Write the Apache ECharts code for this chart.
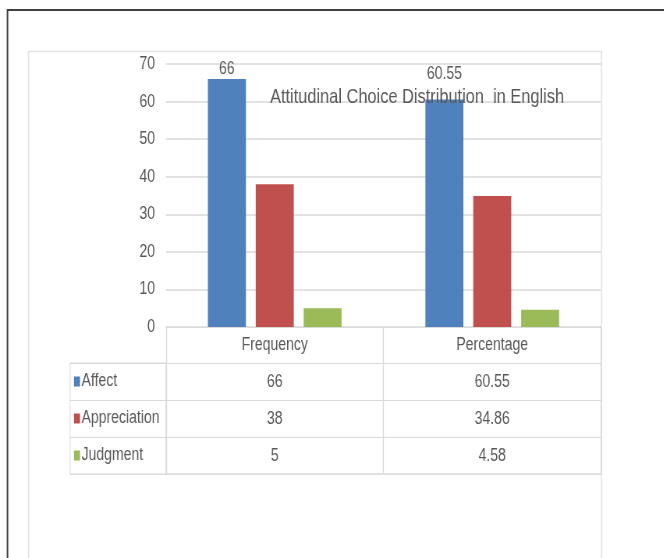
<!DOCTYPE html>
<html>
<head>
<meta charset="utf-8">
<script src="https://cdn.jsdelivr.net/npm/echarts@6/dist/echarts.min.js"></script>
<style>
html,body{margin:0;padding:0;background:#fff;overflow:hidden;}
#wrap{width:664px;height:558px;overflow:hidden;position:relative;}
#chart{height:558px;transform-origin:0 0;position:absolute;left:0;top:0;}
</style>
</head>
<body>
<div id="wrap"><div id="chart"></div></div>
<script>
var categories = ['Frequency', 'Percentage'];
var seriesNames = ['Affect', 'Appreciation', 'Judgment'];
var affect = [66, 60.55];
var appreciation = [38, 34.86];
var judgment = [5, 4.58];
var yTicks = [0, 10, 20, 30, 40, 50, 60, 70];
var titleText = 'Attitudinal Choice Distribution  in English';

// Narrow look: render Liberation Sans and compress horizontally
var SX = 0.78;
function px(x) { return x / SX; }

var FONT = '"Liberation Sans", Arial, sans-serif';
var TXT = '#595959';
var GRID = '#d9d9d9';
var colors = ['#4F81BD', '#C0504D', '#9BBB59'];
var values = [affect, appreciation, judgment];

var W = 664, H = 558;
var CW = px(W);
var el = document.getElementById('chart');
el.style.width = CW + 'px';
el.style.transform = 'scaleX(' + SX + ')';

var plotLeft = 166, plotRight = 601, plotTop = 64, plotBottom = 327;
var headerH = 36, rowH = 37;
var legendColLeft = 70;
var fs = 18;

var xAxes = [{
  type: 'category', gridIndex: 0, data: categories, position: 'bottom',
  axisLine: {show: true, lineStyle: {color: GRID, width: 1}},
  axisTick: {show: true, interval: 0, length: headerH, lineStyle: {color: GRID, width: px(1)}},
  axisLabel: {fontFamily: FONT, fontSize: fs, color: TXT, margin: 8, lineHeight: 20}
}];
values.forEach(function (vals, i) {
  xAxes.push({
    type: 'category', gridIndex: 0, data: vals.map(String), position: 'bottom',
    offset: headerH + rowH * i,
    axisLine: {show: true, lineStyle: {color: GRID, width: 1}},
    axisTick: {show: true, interval: 0, length: rowH, lineStyle: {color: GRID, width: px(1)}},
    axisLabel: {fontFamily: FONT, fontSize: fs, color: TXT, margin: 9, lineHeight: 20, interval: 0}
  });
});
xAxes.push({
  type: 'category', gridIndex: 0, data: categories, position: 'bottom',
  offset: headerH + rowH * values.length,
  axisLine: {show: true, lineStyle: {color: GRID, width: 1.5}},
  axisTick: {show: false}, axisLabel: {show: false}
});
xAxes.push({type: 'value', gridIndex: 1, show: false});

// the second Affect label sits higher in the original (moved clear of the title)
var labelOffsets = [[0, 0], [0, -15]];

var series = seriesNames.map(function (name, i) {
  var s = {
    name: name, type: 'bar', xAxisIndex: 0, yAxisIndex: 0,
    data: values[i], barWidth: px(38), barGap: '26%',
    itemStyle: {color: colors[i]},
    emphasis: {disabled: true}
  };
  if (i === 0) {
    s.data = values[i].map(function (v, j) {
      return {value: v, label: {offset: labelOffsets[j]}};
    });
    s.label = {show: true, position: 'top', distance: 1, fontFamily: FONT, fontSize: fs, color: TXT};
  }
  return s;
});

var option = {
  animation: false,
  backgroundColor: '#fff',
  color: colors,
  title: {
    text: titleText, left: px(270), top: 87, padding: 0,
    textStyle: {fontFamily: FONT, fontSize: 21, fontWeight: 'normal', color: TXT}
  },
  legend: {
    orient: 'vertical', left: px(legendColLeft + 4), top: plotBottom + headerH + 8.5,
    itemWidth: px(6), itemHeight: 10, itemGap: rowH - 20, icon: 'rect',
    padding: 0,
    textStyle: {fontFamily: FONT, fontSize: fs, color: TXT, lineHeight: 20, padding: [0, 0, 0, -3]},
    data: seriesNames
  },
  grid: [
    {left: px(plotLeft), right: CW - px(plotRight), top: plotTop, bottom: H - plotBottom},
    {left: px(legendColLeft), width: px(plotLeft - legendColLeft), top: plotBottom + headerH,
     height: rowH * values.length, show: true, borderColor: GRID, borderWidth: 1, backgroundColor: 'transparent'}
  ],
  xAxis: xAxes,
  yAxis: [{
    type: 'value', gridIndex: 0, min: yTicks[0], max: yTicks[yTicks.length - 1], interval: 10,
    axisLine: {show: false}, axisTick: {show: false},
    splitLine: {show: true, lineStyle: {color: GRID, width: 1.5}},
    axisLabel: {fontFamily: FONT, fontSize: fs, color: TXT, margin: px(11)}
  }, {
    type: 'category', gridIndex: 1, data: seriesNames, inverse: true,
    axisLine: {show: false}, axisTick: {show: false}, axisLabel: {show: false},
    splitLine: {show: true, interval: 0, lineStyle: {color: GRID, width: 1}}
  }],
  graphic: [
    {type: 'rect', silent: true, z: -10,
     shape: {x: px(28.5), y: 51.5, width: px(plotRight - 28), height: H},
     style: {fill: 'none', stroke: '#e2e2e2', lineWidth: 1.5}},
    {type: 'polyline', silent: true, z: 100,
     shape: {points: [[px(7.5), H], [px(7.5), 10], [CW, 10]]},
     style: {fill: 'none', stroke: '#404040', lineWidth: 2}}
  ],
  series: series
};

var chart = echarts.init(el, null, {renderer: 'canvas', width: CW, height: H});
chart.setOption(option);
</script>
</body>
</html>
